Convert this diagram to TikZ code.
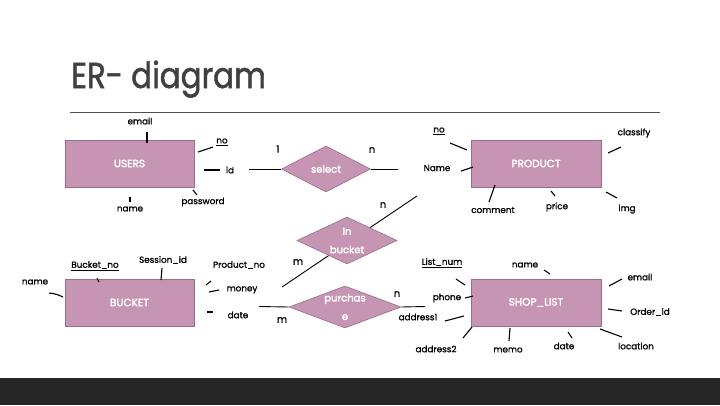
\documentclass[tikz,border=0pt]{standalone}
\usepackage{fontspec}
\setmainfont{Poppins}
\newfontfamily\boxfont[FakeBold=2.5]{Poppins}
\newfontfamily\labelfont[FakeBold=1.2]{Poppins}
\newfontfamily\headfont[FakeBold=1.5]{Poppins}
\usetikzlibrary{shapes.geometric}
\definecolor{entfill}{HTML}{C695B3}
\definecolor{entedge}{HTML}{9A6D8A}
\definecolor{titlegray}{HTML}{404040}
\definecolor{rulegray}{HTML}{505050}
\definecolor{footbar}{HTML}{262626}
\begin{document}
\begin{tikzpicture}[x=1pt,y=-1pt,
  entity/.style={draw=entedge, line width=0.6pt, fill=entfill, text=white,
    minimum width=129pt, minimum height=47pt, inner sep=0pt,
    font=\boxfont\fontsize{10.5}{12}\selectfont},
  relation/.style={diamond, draw=entedge, line width=0.6pt, fill=entfill, inner sep=0pt},
  reltext/.style={text=white, align=center, inner sep=0pt,
    font=\boxfont\fontsize{10}{18.5}\selectfont},
  attr/.style={font=\labelfont\fontsize{8.8}{10}\selectfont, text=black, inner sep=1pt},
  card/.style={font=\labelfont\fontsize{10}{12}\selectfont, text=black, inner sep=1pt},
  tick/.style={draw=black, line width=1.1pt},
  link/.style={draw=black, line width=0.9pt}
]
\useasboundingbox (0,0) rectangle (720,405);
\fill[white] (0,0) rectangle (720,405);
\fill[footbar] (0,378) rectangle (720,405);

% heading and rule
\node[anchor=base west, inner sep=0pt, text=titlegray, xscale=0.86, transform shape,
  font=\headfont\fontsize{36}{40}\selectfont] (title) at (71,88) {ER- diagram};
\coordinate (ruleL) at (70,112);
\coordinate (ruleR) at (660,112);
\draw[rulegray, line width=0.8pt] (ruleL) -- (ruleR);

% line crossing the "In bucket" relation, drawn first so the diamond covers it
\coordinate (ibA) at (282,287);
\coordinate (ibB) at (417,196);
\draw[link] (ibA) -- (ibB);

% entities
\node[entity] (users) at (129.5,163.5) {USERS};
\node[entity, minimum width=130pt] (product) at (536,163.5) {PRODUCT};
\node[entity] (bucket) at (129.5,302.5) {BUCKET};
\node[entity, minimum width=130pt] (shop) at (536,302.5) {SHOP\_LIST};

% relations
\node[relation, minimum width=89pt, minimum height=46pt] (select) at (326,169) {};
\node[reltext] (selectT) at (select.center) {select};
\node[relation, minimum width=100pt, minimum height=47pt] (inbucket) at (347,240.5) {};
\node[reltext] (inbucketT) at (inbucket.center) {In\\bucket};
\node[relation, minimum width=112pt, minimum height=42pt] (purchase) at (345,307) {};
\node[reltext] (purchaseT) at (purchase.center) {purchas\\e};

% relation links
\coordinate (selL) at (249,169);
\coordinate (selR) at (398,169);
\draw[link] (selL) -- (select.west);
\draw[link] (select.east) -- (selR);
\coordinate (purL) at (259,306.5);
\coordinate (purR) at (425,306.5);
\draw[link] (purL) -- (purchase.west);
\draw[link] (purchase.east) -- (purR);

% cardinalities
\node[card] (c1) at (278,149) {1};
\node[card] (c2) at (372,150) {n};
\node[card] (c3) at (383,205) {n};
\node[card] (c4) at (298,262) {m};
\node[card] (c5) at (397,294) {n};
\node[card] (c6) at (282,320) {m};

% USERS attributes
\node[attr] (u_email) at (140,121) {email};
\node[attr] (u_no) at (222,142) {\underline{no}};
\node[attr] (u_id) at (230,170) {id};
\node[attr] (u_pw) at (203,202) {password};
\node[attr] (u_name) at (130,209) {name};
\draw[tick] (147,132) -- (147,143);
\draw[tick] (198,152) -- (213,147);
\draw[tick] (204,170) -- (220,170);
\draw[tick] (193,190) -- (197,195);
\draw[tick] (130,197) -- (130,202);

% PRODUCT attributes
\node[attr] (p_no) at (439,131) {\underline{no}};
\node[attr] (p_name) at (437,168) {Name};
\node[attr] (p_comment) at (493,210) {comment};
\node[attr] (p_price) at (557,207) {price};
\node[attr] (p_img) at (627,209) {img};
\node[attr] (p_class) at (634,133) {classify};
\draw[tick] (450,143) -- (467,150);
\draw[tick] (461,171) -- (473,167);
\draw[tick] (495,185) -- (489,202);
\draw[tick] (551,191) -- (555,196);
\draw[tick] (606,192) -- (617,198);
\draw[tick] (608,153) -- (621,147);

% BUCKET attributes
\node[attr] (b_name) at (35,282) {name};
\node[attr] (b_no) at (95,266) {\underline{Bucket\_no}};
\node[attr] (b_sess) at (163,260) {Session\_id};
\node[attr] (b_prod) at (239,265) {Product\_no};
\node[attr] (b_money) at (242,290) {money};
\node[attr] (b_date) at (238,315) {date};
\draw[tick] (49,293) to[bend left=10] (63,297);
\draw[tick] (97,278) -- (99,282);
\draw[tick] (162,268) -- (161,280);
\draw[tick] (206,285) -- (211,281);
\draw[tick] (209,292) -- (219,290);
\draw[tick] (207,312) -- (213,312);

% SHOP_LIST attributes
\node[attr] (s_num) at (442,263) {\underline{List\_num}};
\node[attr] (s_name) at (525,265) {name};
\node[attr] (s_email) at (640,277) {email};
\node[attr] (s_order) at (650,312) {Order\_id};
\node[attr] (s_loc) at (636,346) {location};
\node[attr] (s_date) at (564,346) {date};
\node[attr] (s_memo) at (508,350) {memo};
\node[attr] (s_addr2) at (436,349) {address2};
\node[attr] (s_addr1) at (418,317) {address1};
\node[attr] (s_phone) at (447,298) {phone};
\draw[tick] (456,279) -- (465,285);
\draw[tick] (544,270) -- (550,274);
\draw[tick] (609,286) -- (622,279);
\draw[tick] (608,309) -- (622,311);
\draw[tick] (600,329) -- (622,337);
\draw[tick] (568,332) -- (572,338);
\draw[tick] (510,328) -- (509,341);
\draw[tick] (463,338) -- (472,327);
\draw[tick] (445,321) -- (464,316);
\draw[tick] (465,298) -- (473,296);
\end{tikzpicture}
\end{document}
